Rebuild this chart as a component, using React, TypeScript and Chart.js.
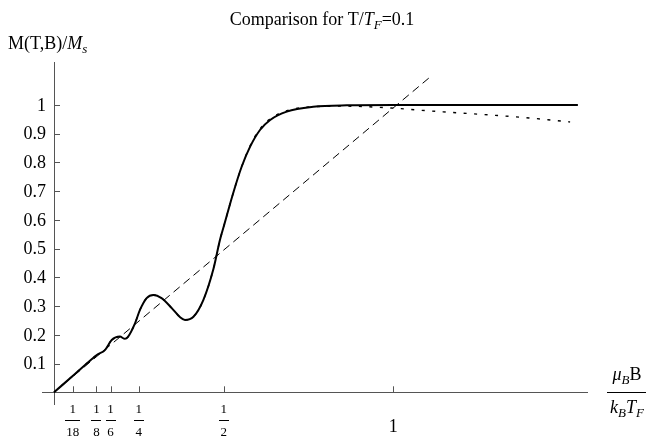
import { useEffect, useRef } from 'react';
import { Chart, registerables } from 'chart.js';

Chart.register(...registerables);

// Full solid curve
const solidX = [0, 0.06, 0.11, 0.126, 0.15, 0.17, 0.194, 0.209, 0.218, 0.239, 0.253, 0.273, 0.293, 0.317, 0.347, 0.371, 0.386, 0.411, 0.44, 0.47, 0.489, 0.5, 0.528, 0.553, 0.578, 0.607, 0.637, 0.686, 0.764, 0.863, 1.0, 1.2, 1.4, 1.544];
const solidY = [0, 0.062, 0.114, 0.13, 0.147, 0.182, 0.194, 0.186, 0.193, 0.241, 0.286, 0.328, 0.339, 0.328, 0.293, 0.262, 0.252, 0.263, 0.321, 0.43, 0.53, 0.576, 0.693, 0.785, 0.855, 0.913, 0.948, 0.977, 0.994, 0.999, 1.0, 1.0, 1.0, 1.0];

// Dotted approximation
const dottedX = [0, 0.06, 0.11, 0.126, 0.15, 0.17, 0.194, 0.209, 0.218, 0.239, 0.253, 0.273, 0.293, 0.317, 0.347, 0.371, 0.386, 0.411, 0.44, 0.47, 0.489, 0.5, 0.528, 0.553, 0.578, 0.607, 0.637, 0.686, 0.764, 0.863, 1.0, 1.1, 1.264, 1.4, 1.521];
const dottedY = [0, 0.062, 0.114, 0.13, 0.147, 0.182, 0.194, 0.186, 0.193, 0.241, 0.286, 0.328, 0.339, 0.328, 0.293, 0.262, 0.252, 0.263, 0.321, 0.43, 0.53, 0.576, 0.693, 0.785, 0.858, 0.917, 0.952, 0.98, 0.994, 0.996, 0.989, 0.98, 0.967, 0.955, 0.941];

// Dashed linear (Curie) line
const dashedX = [0, 1.105];
const dashedY = [0, 1.094];

const yTicks = [0.1, 0.2, 0.3, 0.4, 0.5, 0.6, 0.7, 0.8, 0.9, 1];
const yTickLabels = ['0.1', '0.2', '0.3', '0.4', '0.5', '0.6', '0.7', '0.8', '0.9', '1'];
const xFracTicks = [1 / 18, 1 / 8, 1 / 6, 1 / 4, 1 / 2];
const xFracNum = ['1', '1', '1', '1', '1'];
const xFracDen = ['18', '8', '6', '4', '2'];
const xWholeTicks = [1];
const xWholeLabels = ['1'];

const FONT = '"Liberation Serif", "DejaVu Serif", serif';

type Seg = { t: string; it?: boolean; sub?: boolean };

function segFont(s: Seg, size: number) {
  const sz = s.sub ? Math.round(size * 0.72) : size;
  return `${s.it ? 'italic ' : ''}${sz}px ${FONT}`;
}

function richWidth(ctx: CanvasRenderingContext2D, segs: Seg[], size: number) {
  let w = 0;
  for (const s of segs) {
    ctx.font = segFont(s, size);
    w += ctx.measureText(s.t).width;
  }
  return w;
}

function drawRich(ctx: CanvasRenderingContext2D, segs: Seg[], x: number, y: number, size: number, align: 'left' | 'center') {
  let cx = x;
  if (align === 'center') cx = x - richWidth(ctx, segs, size) / 2;
  ctx.textAlign = 'left';
  ctx.textBaseline = 'alphabetic';
  for (const s of segs) {
    ctx.font = segFont(s, size);
    ctx.fillText(s.t, cx, y + (s.sub ? size * 0.22 : 0));
    cx += ctx.measureText(s.t).width;
  }
}

const axesPlugin = {
  id: 'mmaAxes',
  beforeDatasetsDraw(chart: any) {
    const { ctx, chartArea } = chart;
    const xs = chart.scales.x;
    const ys = chart.scales.y;
    const x0 = xs.getPixelForValue(0);
    const y0 = ys.getPixelForValue(0);
    ctx.save();
    ctx.strokeStyle = '#555';
    ctx.lineWidth = 1;
    ctx.beginPath();
    ctx.moveTo(chartArea.left, Math.round(y0) + 0.5);
    ctx.lineTo(chartArea.right, Math.round(y0) + 0.5);
    ctx.moveTo(Math.round(x0) + 0.5, chartArea.top);
    ctx.lineTo(Math.round(x0) + 0.5, chartArea.bottom);
    for (const v of yTicks) {
      const py = Math.round(ys.getPixelForValue(v)) + 0.5;
      ctx.moveTo(x0, py);
      ctx.lineTo(x0 + 6, py);
    }
    for (const v of [...xFracTicks, ...xWholeTicks]) {
      const px = Math.round(xs.getPixelForValue(v)) + 0.5;
      ctx.moveTo(px, y0);
      ctx.lineTo(px, y0 - 6);
    }
    ctx.stroke();

    ctx.fillStyle = '#000';
    // y tick labels
    ctx.font = `18px ${FONT}`;
    ctx.textAlign = 'right';
    ctx.textBaseline = 'middle';
    yTicks.forEach((v, i) => {
      ctx.fillText(yTickLabels[i], x0 - 8, ys.getPixelForValue(v) + 1);
    });

    // fraction x labels
    ctx.textAlign = 'center';
    ctx.textBaseline = 'alphabetic';
    xFracTicks.forEach((v, i) => {
      const px = xs.getPixelForValue(v);
      ctx.font = `13px ${FONT}`;
      ctx.fillText(xFracNum[i], px, y0 + 21);
      ctx.fillText(xFracDen[i], px, y0 + 44);
      const w = Math.max(ctx.measureText(xFracDen[i]).width, 8) + 2;
      ctx.fillRect(Math.round(px - w / 2), Math.round(y0 + 28), Math.round(w), 1);
    });
    ctx.font = `18px ${FONT}`;
    xWholeTicks.forEach((v, i) => {
      ctx.fillText(xWholeLabels[i], xs.getPixelForValue(v), y0 + 40);
    });

    // title
    drawRich(ctx, [{ t: 'Comparison for T/' }, { t: 'T', it: true }, { t: 'F', it: true, sub: true }, { t: '=0.1' }], 322, 25, 18, 'center');
    // y axis label
    drawRich(ctx, [{ t: 'M(T,B)/' }, { t: 'M', it: true }, { t: 's', it: true, sub: true }], 8, 49, 18, 'left');
    // x axis label (fraction)
    const cxl = 627;
    drawRich(ctx, [{ t: 'μ', it: true }, { t: 'B', it: true, sub: true }, { t: 'B' }], cxl, y0 - 12, 18, 'center');
    ctx.fillRect(607, Math.round(y0), 39, 1);
    drawRich(ctx, [{ t: 'k', it: true }, { t: 'B', it: true, sub: true }, { t: 'T', it: true }, { t: 'F', it: true, sub: true }], cxl, y0 + 21, 18, 'center');
    ctx.restore();
  },
};

const toPts = (xs: number[], ys: number[]) => xs.map((x, i) => ({ x, y: ys[i] }));

export default function App() {
  const ref = useRef<HTMLCanvasElement>(null);
  useEffect(() => {
    document.body.style.margin = '0';
    const chart = new Chart(ref.current!, {
      type: 'line',
      data: {
        datasets: [
          {
            data: toPts(dashedX, dashedY),
            borderColor: '#000',
            borderWidth: 1,
            borderDash: [8, 5],
            pointRadius: 0,
            tension: 0,
          },
          {
            data: toPts(dottedX, dottedY),
            borderColor: '#000',
            borderWidth: 1.4,
            borderDash: [3, 7.5],
            pointRadius: 0,
            cubicInterpolationMode: 'monotone',
          },
          {
            data: toPts(solidX, solidY),
            borderColor: '#000',
            borderWidth: 2,
            pointRadius: 0,
            cubicInterpolationMode: 'monotone',
          },
        ],
      },
      options: {
        animation: false,
        responsive: true,
        maintainAspectRatio: false,
        layout: { padding: { left: 42, top: 62, right: 59, bottom: 33 } },
        plugins: { legend: { display: false }, tooltip: { enabled: false }, title: { display: false } },
        scales: {
          x: { type: 'linear', min: -0.0354, max: 1.5738, display: false },
          y: { type: 'linear', min: -0.0442, max: 1.1497, display: false },
        },
      },
      plugins: [axesPlugin],
    });
    return () => chart.destroy();
  }, []);
  return (
    <div style={{ width: 647, height: 438, position: 'relative', background: '#fff' }}>
      <canvas ref={ref} />
    </div>
  );
}
